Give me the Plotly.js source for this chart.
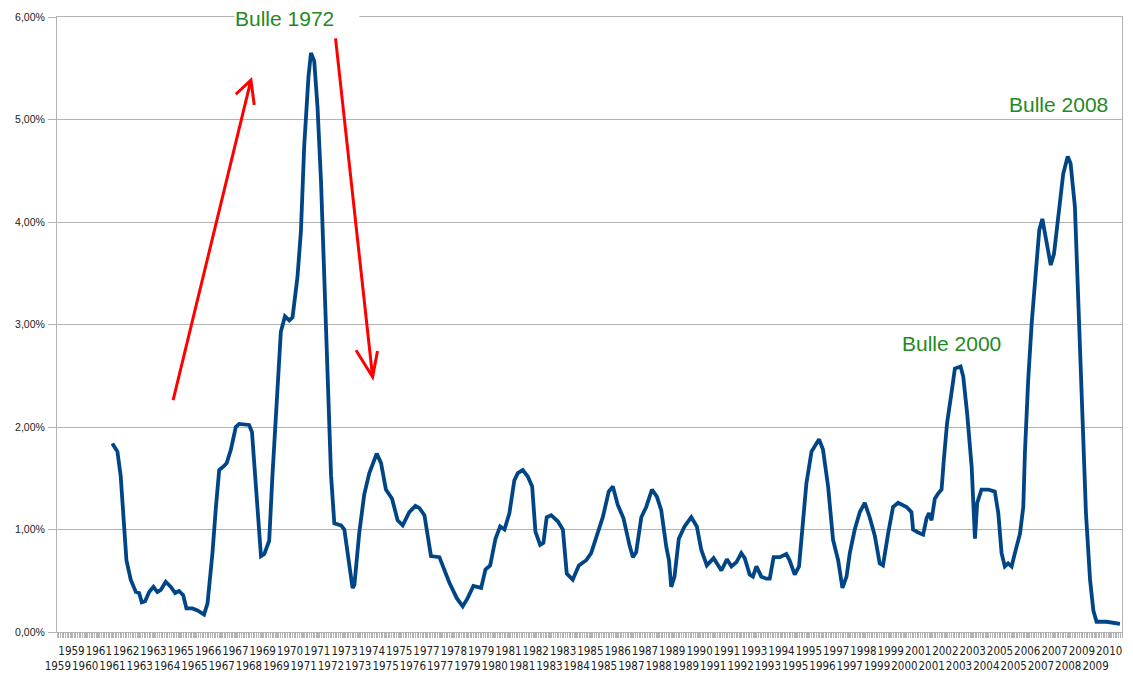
<!DOCTYPE html>
<html>
<head>
<meta charset="utf-8">
<script src="https://cdn.plot.ly/plotly-3.0.1.min.js"></script>
<style>
  html, body { margin: 0; padding: 0; background: #ffffff; }
  #chart { width: 1133px; height: 675px; }
</style>
</head>
<body>
<div id="chart"></div>
<script>
// Decimal year of each reading
const years = [
  1961.70,1961.95,1962.11,1962.27,1962.39,1962.60,1962.85,1963.01,1963.14,1963.30,
  1963.50,1963.71,1963.90,1964.07,1964.31,1964.56,1964.77,1964.96,1965.16,1965.32,
  1965.61,1965.86,1966.18,1966.35,1966.59,1966.76,1966.92,1967.16,1967.29,1967.49,
  1967.73,1967.89,1968.38,1968.52,1968.68,1968.79,1968.96,1969.12,1969.36,1969.52,
  1969.72,1969.93,1970.13,1970.34,1970.50,1970.74,1970.91,1971.07,1971.28,1971.40,
  1971.56,1971.72,1971.89,1972.05,1972.21,1972.38,1972.54,1972.87,1973.03,1973.19,
  1973.43,1973.52,1973.76,1974.00,1974.25,1974.61,1974.82,1975.06,1975.36,1975.63,
  1975.88,1976.20,1976.50,1976.69,1976.94,1977.26,1977.67,1978.16,1978.52,1978.81,
  1979.05,1979.33,1979.71,1979.92,1980.15,1980.41,1980.64,1980.85,1981.09,1981.33,
  1981.50,1981.74,1981.98,1982.20,1982.36,1982.59,1982.75,1982.91,1983.13,1983.45,
  1983.70,1983.89,1984.18,1984.48,1984.84,1985.08,1985.33,1985.65,1985.94,1986.14,
  1986.38,1986.66,1986.96,1987.12,1987.28,1987.53,1987.77,1988.05,1988.29,1988.50,
  1988.75,1988.88,1988.99,1989.15,1989.36,1989.64,1989.97,1990.24,1990.46,1990.73,
  1991.06,1991.44,1991.71,1991.93,1992.17,1992.41,1992.58,1992.82,1992.98,1993.15,
  1993.39,1993.64,1993.80,1993.99,1994.29,1994.61,1994.77,1995.02,1995.23,1995.40,
  1995.59,1995.84,1996.21,1996.40,1996.65,1996.89,1997.14,1997.35,1997.55,1997.71,
  1997.95,1998.20,1998.44,1998.68,1998.93,1999.17,1999.33,1999.58,1999.82,2000.07,
  2000.48,2000.72,2000.80,2001.05,2001.29,2001.46,2001.58,2001.70,2001.86,2002.02,
  2002.19,2002.30,2002.46,2002.68,2002.84,2003.12,2003.25,2003.44,2003.66,2003.82,
  2003.93,2004.14,2004.47,2004.79,2004.96,2005.12,2005.28,2005.44,2005.61,2005.77,
  2006.02,2006.18,2006.26,2006.42,2006.59,2006.80,2006.96,2007.11,2007.32,2007.52,
  2007.68,2007.89,2008.13,2008.35,2008.49,2008.70,2008.86,2009.03,2009.24,2009.44,
  2009.60,2009.76,2010.25,2010.90
];
// Value in percent
const values = [
  1.84,1.76,1.52,1.00,0.70,0.51,0.39,0.38,0.29,0.30,
  0.39,0.44,0.39,0.41,0.49,0.44,0.38,0.40,0.36,0.23,
  0.23,0.21,0.17,0.28,0.77,1.22,1.58,1.62,1.65,1.78,
  2.00,2.03,2.02,1.95,1.53,1.16,0.74,0.76,0.89,1.53,
  2.29,2.93,3.08,3.04,3.07,3.46,3.91,4.74,5.42,5.65,
  5.57,5.12,4.40,3.53,2.48,1.53,1.06,1.04,1.00,0.78,
  0.43,0.46,0.97,1.34,1.55,1.74,1.65,1.39,1.30,1.09,
  1.04,1.17,1.23,1.21,1.14,0.74,0.73,0.48,0.33,0.25,
  0.33,0.45,0.43,0.61,0.65,0.91,1.03,1.00,1.16,1.48,
  1.55,1.58,1.52,1.42,0.98,0.85,0.87,1.12,1.14,1.08,
  1.00,0.57,0.51,0.65,0.70,0.77,0.93,1.12,1.37,1.42,
  1.24,1.11,0.84,0.73,0.78,1.12,1.22,1.39,1.32,1.19,
  0.83,0.70,0.44,0.54,0.91,1.03,1.12,1.03,0.80,0.65,
  0.72,0.60,0.71,0.64,0.68,0.77,0.72,0.56,0.54,0.64,
  0.54,0.52,0.52,0.73,0.73,0.76,0.70,0.56,0.64,1.00,
  1.45,1.76,1.88,1.78,1.42,0.90,0.70,0.43,0.54,0.77,
  1.00,1.17,1.26,1.12,0.94,0.67,0.65,0.96,1.22,1.26,
  1.22,1.17,1.00,0.97,0.95,1.11,1.16,1.09,1.30,1.35,
  1.39,1.68,2.04,2.34,2.57,2.59,2.49,2.13,1.61,0.91,
  1.26,1.39,1.39,1.37,1.16,0.77,0.64,0.67,0.64,0.77,
  0.96,1.22,1.75,2.46,3.01,3.53,3.92,4.03,3.79,3.58,
  3.69,4.08,4.47,4.64,4.57,4.15,3.21,2.30,1.16,0.51,
  0.21,0.10,0.10,0.08
];
// Category-axis labels (one every 8 months from Jan 1959)
const tickYears = [
  1959,1959,1960,1961,1961,1962,1963,1963,1964,1965,1965,1966,1967,1967,1968,
  1969,1969,1970,1971,1971,1972,1973,1973,1974,1975,1975,1976,1977,1977,1978,
  1979,1979,1980,1981,1981,1982,1983,1983,1984,1985,1985,1986,1987,1987,1988,
  1989,1989,1990,1991,1991,1992,1993,1993,1994,1995,1995,1996,1997,1997,1998,
  1999,1999,2000,2001,2001,2002,2003,2003,2004,2005,2005,2006,2007,2007,2008,
  2009,2009,2010
];
const bubbleLabels = ['Bulle 1972', 'Bulle 2000', 'Bulle 2008'];

const tickvals = tickYears.map((y, k) => 1959 + (8 * k + 0.5) / 12);
const ticktext = tickYears.map((y, k) => (k % 2 === 0 ? '<br>' : '') + String(y));

const green = '#1f8a1f';
const red = '#ff0000';
const grid = '#b3b3b3';

const trace = {
  type: 'scatter',
  mode: 'lines',
  x: years,
  y: values,
  line: { color: '#004586', width: 3.8 },
  hoverinfo: 'skip'
};

const layout = {
  width: 1133,
  height: 675,
  margin: { l: 57, r: 11, t: 17, b: 43 },
  paper_bgcolor: '#ffffff',
  plot_bgcolor: '#ffffff',
  separators: ', ',
  showlegend: false,
  font: { family: 'Liberation Sans, Arial, sans-serif', color: '#222222' },
  xaxis: {
    range: [1959, 2011],
    tickmode: 'array',
    tickvals: tickvals,
    ticktext: ticktext,
    tickangle: 0,
    ticks: 'outside',
    ticklen: 5,
    tickcolor: grid,
    ticklabelstandoff: 3,
    showgrid: false,
    zeroline: false,
    showline: true,
    linecolor: grid,
    mirror: true,
    tickfont: { family: 'Liberation Sans Narrow, DejaVu Sans Condensed, Liberation Sans, sans-serif', size: 11.5, color: '#222222' },
    minor: { tickmode: 'linear', tick0: 1959, dtick: 1 / 12, ticks: 'outside', ticklen: 5, tickcolor: grid, showgrid: false }
  },
  yaxis: {
    range: [0, 6],
    tickmode: 'linear',
    tick0: 0,
    dtick: 1,
    tickformat: '.2f',
    ticksuffix: '%',
    ticks: 'outside',
    ticklen: 8,
    tickcolor: grid,
    ticklabelstandoff: 1,
    showgrid: true,
    gridcolor: grid,
    gridwidth: 1,
    zeroline: false,
    showline: true,
    linecolor: grid,
    mirror: true,
    tickfont: { family: 'Liberation Sans, Arial, sans-serif', size: 10.5, color: '#222222' }
  },
  annotations: [
    { xref: 'x', yref: 'y', x: 1967.65, y: 5.99, xanchor: 'left', yanchor: 'middle',
      text: bubbleLabels[0], showarrow: false, width: 124, align: 'left',
      bgcolor: '#ffffff', borderpad: 0,
      font: { family: 'Liberation Sans, Arial, sans-serif', size: 21, color: green } },
    { xref: 'x', yref: 'y', x: 2002.67, y: 2.81, xanchor: 'center', yanchor: 'middle',
      text: bubbleLabels[1], showarrow: false,
      font: { family: 'Liberation Sans, Arial, sans-serif', size: 21, color: green } },
    { xref: 'x', yref: 'y', x: 2007.92, y: 5.15, xanchor: 'center', yanchor: 'middle',
      text: bubbleLabels[2], showarrow: false,
      font: { family: 'Liberation Sans, Arial, sans-serif', size: 21, color: green } }
  ],
  shapes: [
    { type: 'path', xref: 'x', yref: 'y',
      path: 'M 1964.67,2.263 L 1968.47,5.385 M 1967.73,5.246 L 1968.47,5.385 L 1968.63,5.141',
      line: { color: red, width: 3 } },
    { type: 'path', xref: 'x', yref: 'y',
      path: 'M 1972.60,5.792 L 1974.41,2.488 M 1973.60,2.748 L 1974.41,2.488 L 1974.65,2.741',
      line: { color: red, width: 3 } }
  ]
};

Plotly.newPlot('chart', [trace], layout, { staticPlot: true, displayModeBar: false });
</script>
</body>
</html>
